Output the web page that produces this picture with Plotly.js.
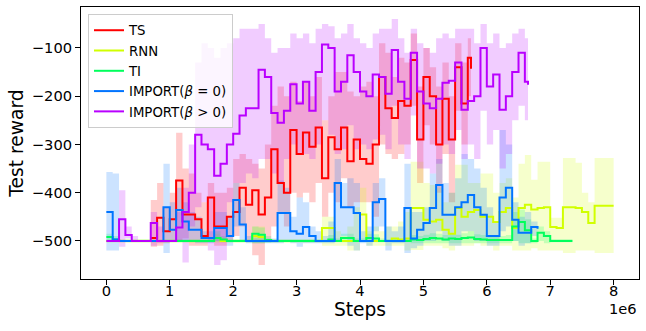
<!DOCTYPE html>
<html>
<head>
<meta charset="utf-8">
<script src="https://cdn.plot.ly/plotly-3.0.1.min.js"></script>
<style>html,body{margin:0;padding:0;background:#fff;}#chart{width:646px;height:331px;}</style>
</head>
<body>
<div id="chart"></div>
<script>
// x positions in units of 1e6 steps
const steps = [0,0.1,0.2,0.3,0.4,0.5,0.6,0.7,0.8,0.9,1.0,1.1,1.2,1.3,1.4,1.5,1.6,1.7,1.8,1.9,2.0,2.1,2.2,2.3,2.4,2.5,2.6,2.7,2.8,2.9,3.0,3.1,3.2,3.3,3.4,3.5,3.6,3.7,3.8,3.9,4.0,4.1,4.2,4.3,4.4,4.5,4.6,4.7,4.8,4.9,5.0,5.1,5.2,5.3,5.4,5.5,5.6,5.7,5.8,5.9,6.0,6.1,6.2,6.3,6.4,6.5,6.6,6.7,6.8,6.9,7.0,7.1,7.2,7.3,7.4,7.5,7.6,7.7,7.8,7.9,8.0];

const seriesNames = ['TS', 'RNN', 'TI', 'IMPORT(<i>β</i> = 0)', 'IMPORT(<i>β</i> > 0)'];
const seriesColors = ['#ff0000', '#d1ff00', '#00ff5c', '#0074ff', '#b900ff'];
const bandColors = ['rgba(255,0,0,0.2)', 'rgba(209,255,0,0.2)', 'rgba(0,255,92,0.2)', 'rgba(0,116,255,0.2)', 'rgba(185,0,255,0.2)'];

// TS
const tsSteps = steps.slice(7, 58).concat([5.75]);
const tsMean = [-494,-452,-480,-455,-375,-445,-445,-455,-490,-410,
  -470,-470,-450,-440,-390,-425,-395,-445,-410,-310,
  -380,-400,-270,-320,-275,-305,-265,-370,-285,-310,
  -265,-335,-290,-330,-340,-300,-160,-225,-245,-210,
  -220,-125,-290,-160,-200,-300,-205,-290,-140,-215,
  -120,-143];
const tsUpper = [-415,-380,-430,-400,-276,-350,-360,-400,-420,-380,
  -400,-400,-390,-330,-320,-330,-340,-350,-300,-220,
  -180,-200,-170,-210,-170,-200,-160,-250,-200,-150,
  -150,-190,-200,-180,-170,-200,-90,-110,-160,-120,
  -130,-70,-180,-100,-140,-180,-130,-200,-90,-130,
  -80,-90];
const tsLower = [-512,-510,-505,-500,-500,-495,-510,-510,-510,-500,
  -510,-510,-500,-490,-470,-500,-530,-550,-500,-470,
  -440,-470,-400,-410,-400,-420,-380,-450,-400,-420,
  -370,-430,-420,-420,-420,-450,-300,-320,-330,-320,
  -300,-220,-380,-260,-300,-400,-320,-420,-230,-300,
  -200,-220];

// RNN
const rnnSteps = steps.slice(0, 81);
const rnnMean = [-500,-500,-500,-500,-500,-500,-500,-500,-500,-500,
  -500,-500,-500,-500,-500,-500,-500,-494,-500,-500,
  -500,-500,-500,-490,-492,-500,-500,-500,-500,-500,
  -500,-500,-500,-500,-473,-473,-500,-500,-500,-500,
  -445,-500,-500,-500,-500,-495,-497,-495,-432,-432,
  -456,-460,-456,-477,-485,-432,-450,-440,-436,-450,
  -450,-461,-440,-432,-473,-432,-425,-435,-432,-430,
  -471,-473,-430,-430,-432,-440,-463,-427,-427,-427,
  -427];
const rnnUpper = [-496,-496,-496,-496,-496,-496,-496,-496,-496,-496,
  -496,-496,-496,-496,-496,-496,-496,-485,-496,-496,
  -496,-496,-496,-470,-470,-496,-496,-496,-496,-496,
  -496,-496,-496,-496,-450,-450,-480,-490,-470,-430,
  -390,-480,-470,-480,-470,-470,-460,-440,-336,-336,
  -380,-384,-390,-420,-400,-342,-342,-380,-380,-360,
  -360,-400,-380,-370,-410,-340,-322,-373,-336,-336,
  -452,-452,-328,-328,-338,-400,-420,-328,-328,-328,
  -328];
const rnnLower = [-504,-504,-504,-504,-504,-504,-504,-504,-504,-504,
  -504,-504,-504,-504,-504,-504,-504,-504,-504,-504,
  -504,-504,-504,-505,-505,-504,-504,-504,-504,-504,
  -504,-504,-504,-504,-510,-510,-510,-510,-520,-520,
  -500,-510,-510,-510,-510,-510,-510,-520,-519,-519,
  -510,-510,-510,-515,-520,-510,-510,-510,-505,-510,
  -510,-520,-510,-510,-520,-520,-520,-515,-520,-520,
  -520,-520,-525,-525,-520,-520,-520,-525,-525,-525,
  -525];

// TI
const tiSteps = steps.slice(0, 74).concat([7.35]);
const tiMean = [-492,-497,-500,-500,-500,-500,-500,-500,-500,-500,
  -500,-500,-500,-500,-500,-500,-500,-494,-497,-500,
  -500,-500,-500,-485,-487,-498,-500,-500,-500,-500,
  -500,-500,-500,-500,-500,-497,-500,-494,-494,-500,
  -500,-494,-495,-500,-500,-500,-500,-500,-497,-498,
  -496,-494,-495,-497,-495,-496,-494,-493,-496,-497,
  -498,-498,-498,-498,-470,-461,-478,-500,-483,-490,
  -500,-500,-500,-500,-500];
const tiUpper = [-485,-490,-497,-497,-497,-497,-497,-497,-497,-497,
  -497,-497,-497,-497,-497,-497,-497,-480,-490,-497,
  -497,-497,-497,-470,-472,-490,-497,-497,-497,-497,
  -497,-497,-497,-497,-497,-488,-495,-485,-485,-495,
  -495,-485,-486,-495,-496,-496,-496,-496,-488,-490,
  -487,-484,-485,-488,-486,-487,-484,-480,-486,-488,
  -490,-490,-490,-488,-440,-435,-455,-495,-470,-480,
  -496,-496,-496,-496,-496];
const tiLower = [-498,-502,-503,-503,-503,-503,-503,-503,-503,-503,
  -503,-503,-503,-503,-503,-503,-503,-502,-503,-503,
  -503,-503,-503,-505,-505,-504,-503,-503,-503,-503,
  -503,-503,-503,-503,-503,-503,-503,-503,-503,-503,
  -503,-503,-503,-503,-503,-503,-503,-503,-505,-505,
  -505,-505,-505,-505,-505,-505,-505,-505,-505,-505,
  -505,-505,-505,-505,-500,-505,-505,-505,-500,-505,
  -503,-503,-503,-503,-503];

// IMPORT(beta = 0)
const imp0Steps = steps.slice(0, 69);
const imp0Mean = [-440,-497,-500,-500,-500,-500,-500,-500,-500,-430,
  -477,-436,-460,-477,-477,-494,-494,-473,-473,-490,
  -415,-466,-500,-500,-500,-500,-500,-442,-442,-480,
  -485,-471,-490,-500,-500,-500,-380,-430,-430,-442,
  -500,-500,-420,-413,-500,-500,-500,-432,-495,-477,
  -463,-432,-384,-446,-446,-430,-420,-405,-430,-446,
  -490,-490,-410,-390,-456,-483,-483,-471,-475];
const imp0Upper = [-357,-360,-500,-500,-500,-500,-500,-500,-500,-340,
  -420,-390,-420,-440,-450,-480,-480,-440,-440,-450,
  -380,-430,-490,-495,-495,-495,-495,-375,-390,-450,
  -410,-420,-470,-480,-490,-460,-330,-380,-370,-380,
  -480,-470,-380,-370,-470,-480,-470,-340,-440,-440,
  -430,-360,-330,-380,-400,-370,-320,-330,-350,-390,
  -430,-460,-270,-300,-420,-450,-440,-460,-465];
const imp0Lower = [-520,-520,-500,-500,-500,-500,-500,-500,-500,-525,
  -500,-500,-500,-500,-505,-505,-505,-500,-500,-510,
  -470,-500,-505,-505,-505,-505,-505,-505,-500,-505,
  -512,-505,-505,-505,-505,-505,-500,-490,-510,-520,
  -505,-510,-480,-470,-520,-505,-505,-525,-515,-510,
  -500,-500,-480,-500,-510,-510,-480,-480,-500,-500,
  -510,-510,-480,-470,-500,-510,-505,-490,-485];

// IMPORT(beta > 0)
const impPSteps = steps.slice(0, 67).concat([6.65]);
const impPMean = [-500,-500,-455,-488,-500,-500,-500,-463,-500,-500,
  -500,-472,-440,-400,-280,-300,-310,-365,-340,-300,
  -278,-240,-225,-225,-145,-160,-235,-255,-230,-175,
  -215,-170,-230,-150,-93,-100,-190,-170,-115,-150,
  -190,-200,-155,-160,-195,-104,-170,-205,-110,-190,
  -215,-225,-205,-172,-168,-130,-228,-210,-200,-100,
  -180,-155,-228,-200,-150,-110,-170,
  -176];
const impPUpper = [-500,-500,-395,-470,-490,-500,-500,-440,-470,-500,
  -500,-440,-390,-300,-130,-90,-100,-120,-100,-90,
  -80,-60,-60,-60,-50,-80,-110,-100,-100,-70,
  -80,-70,-90,-60,-50,-55,-80,-70,-50,-80,
  -90,-100,-70,-60,-60,-40,-80,-110,-60,-90,
  -100,-110,-80,-70,-80,-60,-60,-60,-90,-50,
  -90,-70,-100,-90,-70,-60,-80,
  -90];
const impPLower = [-500,-500,-512,-495,-502,-500,-500,-510,-505,-500,
  -500,-500,-545,-470,-430,-420,-520,-550,-540,-420,
  -380,-380,-360,-370,-330,-330,-360,-380,-330,-300,
  -320,-320,-330,-300,-250,-280,-320,-310,-260,-310,
  -300,-310,-290,-280,-310,-220,-300,-330,-240,-350,
  -350,-360,-340,-300,-320,-270,-330,-300,-330,-230,
  -300,-270,-350,-320,-250,-220,-250,
  -260];

const xTicks = [0,1,2,3,4,5,6,7,8];
const yTicks = [-500,-400,-300,-200,-100];

const allSteps = [tsSteps, rnnSteps, tiSteps, imp0Steps, impPSteps];
const allMean = [tsMean, rnnMean, tiMean, imp0Mean, impPMean];
const allUpper = [tsUpper, rnnUpper, tiUpper, imp0Upper, impPUpper];
const allLower = [tsLower, rnnLower, tiLower, imp0Lower, impPLower];

const traces = [];
for (let i = 0; i < 5; i++) {
  traces.push({x: allSteps[i], y: allLower[i], type: 'scatter', mode: 'lines',
    line: {width: 0, shape: 'hv', color: bandColors[i]}, showlegend: false, hoverinfo: 'skip'});
  traces.push({x: allSteps[i], y: allUpper[i], type: 'scatter', mode: 'lines', fill: 'tonexty',
    fillcolor: bandColors[i], line: {width: 0, shape: 'hv', color: bandColors[i]},
    showlegend: false, hoverinfo: 'skip'});
}
for (let i = 0; i < 5; i++) {
  traces.push({x: allSteps[i], y: allMean[i], type: 'scatter', mode: 'lines', name: seriesNames[i],
    line: {width: 2, shape: 'hv', color: seriesColors[i]}});
}

const font = 'DejaVu Sans, sans-serif';
const layout = {
  width: 646, height: 331,
  margin: {l: 81, r: 7, t: 7, b: 52},
  paper_bgcolor: '#fff', plot_bgcolor: '#fff',
  font: {family: font, color: '#000', size: 14.67},
  showlegend: true,
  legend: {x: 0.0125, y: 0.974, xanchor: 'left', yanchor: 'top',
    bgcolor: 'rgba(255,255,255,0.8)', bordercolor: '#cccccc', borderwidth: 1,
    font: {family: font, size: 13.3, color: '#000'}, traceorder: 'normal'},
  xaxis: {range: [-0.4, 8.4], tickvals: xTicks, ticktext: xTicks.map(String),
    ticks: 'outside', ticklen: 5, tickwidth: 1, tickcolor: '#000', ticklabelstandoff: -7,
    showline: true, mirror: true, linecolor: '#000', linewidth: 1,
    showgrid: false, zeroline: false, tickfont: {size: 14.67},
    title: {text: 'Steps', font: {size: 18.67}, standoff: 2}},
  yaxis: {range: [-579, -15], tickvals: yTicks,
    ticks: 'outside', ticklen: 5, tickwidth: 1, tickcolor: '#000',
    showline: true, mirror: true, linecolor: '#000', linewidth: 1,
    showgrid: false, zeroline: false, tickfont: {size: 14.67},
    title: {text: 'Test reward', font: {size: 18.67}, standoff: 3}},
  annotations: [{text: '1e6', xref: 'paper', yref: 'paper', x: 1.0, y: -0.11,
    xanchor: 'right', yanchor: 'middle', showarrow: false, font: {size: 14.67}}]
};

Plotly.newPlot('chart', traces, layout, {displayModeBar: false, staticPlot: true});
</script>
</body>
</html>
